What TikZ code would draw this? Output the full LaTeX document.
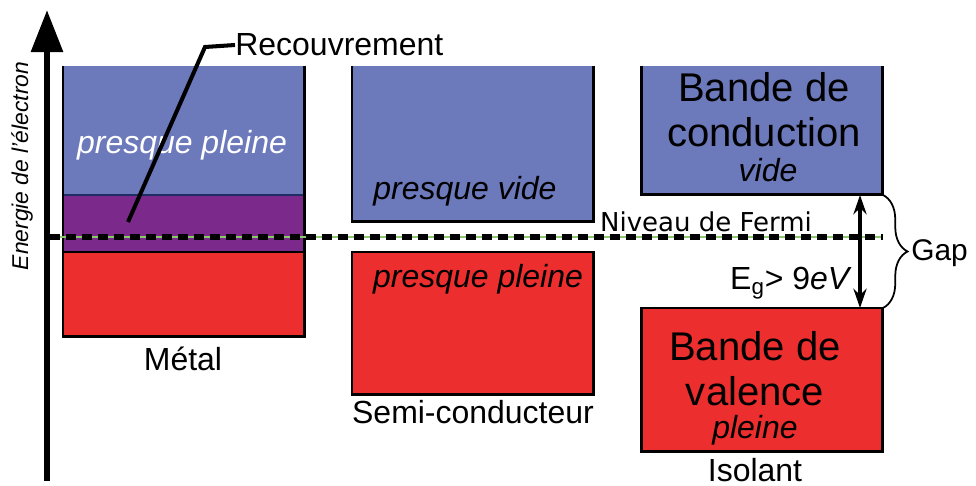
\documentclass[tikz,border=0pt]{standalone}
\usepackage{fontspec}
\setmainfont{Liberation Sans}
\newfontfamily\fermifont{DejaVu Sans}
\usetikzlibrary{arrows.meta,decorations.pathreplacing}

\definecolor{bandebleu}{RGB}{108,121,186}
\definecolor{bandeviolet}{RGB}{123,42,140}
\definecolor{banderouge}{RGB}{236,46,46}
\definecolor{bleufonce}{RGB}{30,45,100}
\definecolor{vertclair}{RGB}{140,200,110}

\begin{document}
\begin{tikzpicture}[x=0.02cm,y=-0.02cm,
    bande/.style={inner sep=0,outer sep=0,anchor=north west,minimum width=4.84cm},
    bord/.style={line width=1.7pt,draw=black},
    txt/.style={inner sep=0,font=\fontsize{18.2}{20}\selectfont},
    gros/.style={inner sep=0,align=center,font=\fontsize{22.8}{25.6}\selectfont}]

  \useasboundingbox (0,0) rectangle (976,486);

  % metal
  \node[bande,fill=bandebleu,minimum height=2.58cm] (mb) at (63,66) {};
  \node[bande,fill=bandeviolet,minimum height=1.14cm] (mv) at (63,195) {};
  \node[bande,fill=banderouge,bord,minimum height=1.70cm] (mr) at (63,252) {};
  \draw[bleufonce,line width=1pt] (mv.north west) -- (mv.north east);
  \draw[bord] (mb.north west) -- (mr.north west);
  \draw[bord] (mb.north east) -- (mr.north east);

  % semi-conducteur
  \node[bande,fill=bandebleu,minimum height=3.12cm] (sb) at (352,66) {};
  \draw[bord] (sb.north west) -- (sb.south west) -- (sb.south east) -- (sb.north east);
  \node[bande,fill=banderouge,bord,minimum height=2.86cm] (sr) at (352,252) {};

  % isolant
  \node[bande,fill=bandebleu,minimum height=2.58cm] (ib) at (641,66) {};
  \draw[bord] (ib.north west) -- (ib.south west) -- (ib.south east) -- (ib.north east);
  \node[bande,fill=banderouge,bord,minimum height=2.88cm] (ir) at (641,308) {};

  \node[txt,text=white] (mplein) at (182,145) {\itshape presque pleine};
  \node[txt] (metal) at (183,359) {Métal};
  \node[txt] (svide) at (465,191) {\itshape presque vide};
  \node[txt] (splein) at (478,279) {\itshape presque pleine};
  \node[txt] (semi) at (473,412) {Semi-conducteur};
  \node[gros] (cond) at (764,110) {Bande de\\conduction};
  \node[txt] (cvide) at (768,170) {\itshape vide};
  \node[gros] (val) at (755,369) {Bande de\\valence};
  \node[txt] (vplein) at (755,430) {\itshape pleine};
  \node[txt] (isolant) at (755,470) {Isolant};

  % niveau de Fermi
  \coordinate (fermig) at (50,237);
  \coordinate (fermid) at (883,237);
  \draw[vertclair,line width=0.6pt] (fermig) -- (fermid);
  \draw[line width=3pt,dash pattern=on 5.7pt off 3.4pt] (fermig) -- (fermid);
  \node[inner sep=0,font=\fermifont\fontsize{14.8}{16}\selectfont] (fermi) at (706,222) {Niveau de Fermi};

  % recouvrement
  \node[txt,anchor=west] (recouv) at (235,45) {Recouvrement};
  \coordinate (recpied) at (128,222);
  \coordinate (reccoude) at (205,47);
  \draw[line width=2.3pt] (recpied) -- (reccoude) -- (recouv.west);

  % gap
  \coordinate (egh) at (860,195);
  \coordinate (egb) at (860,308);
  \draw[line width=1.8pt,{Stealth[length=11pt,width=7.5pt]}-{Stealth[length=11pt,width=7.5pt]}] (egh) -- (egb);
  \node[txt] (eg) at (791,283) {E\textsubscript{g}> 9\textit{eV}};
  \draw[line width=1pt,decorate,decoration={brace,amplitude=14pt}] (ib.south east) -- (ir.north east);
  \node[txt,font=\fontsize{17}{19}\selectfont,anchor=west] (gap) at (911,253) {Gap};

  % axe
  \coordinate (axebas) at (47,481);
  \coordinate (axehaut) at (47,10);
  \draw[line width=3.7pt,-{Triangle[length=24pt,width=17.6pt]}] (axebas) -- (axehaut);
  \node[rotate=90,inner sep=0,font=\fontsize{13}{15}\selectfont\itshape] (energie) at (22,166) {Energie de l'électron};

\end{tikzpicture}
\end{document}
